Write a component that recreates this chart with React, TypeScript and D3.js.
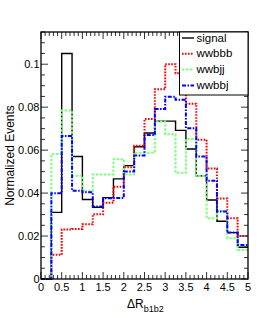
import React from "react";
import * as d3 from "d3";

// bin edges: 0 to 5 in steps of 0.25
const binWidth = 0.25;
const signal = [0, 0.031, 0.105, 0.057, 0.037, 0.0334, 0.0379, 0.0466, 0.0528, 0.0616, 0.068, 0.0735, 0.0735, 0.0692, 0.0605, 0.048, 0.0368, 0.0269, 0.0216, 0.0148];
const wwbbb = [0, 0.0113, 0.0231, 0.0233, 0.0255, 0.0301, 0.0355, 0.043, 0.052, 0.062, 0.0745, 0.0883, 0.1, 0.0958, 0.0816, 0.0648, 0.0514, 0.0375, 0.0283, 0.02];
const wwbjj = [0, 0.0582, 0.0784, 0.0481, 0.041, 0.0486, 0.0486, 0.0558, 0.0486, 0.0588, 0.0588, 0.0733, 0.0674, 0.0495, 0.0652, 0.048, 0.0283, 0.0317, 0.019, 0.0135];
const wwbbj = [0, 0.0399, 0.0666, 0.0411, 0.0404, 0.0337, 0.0376, 0.0377, 0.05, 0.0575, 0.067, 0.0792, 0.0849, 0.0834, 0.0702, 0.057, 0.0458, 0.0314, 0.0216, 0.0158];

const xTicks = [0, 0.5, 1, 1.5, 2, 2.5, 3, 3.5, 4, 4.5, 5];
const xTickLabels = ["0", "0.5", "1", "1.5", "2", "2.5", "3", "3.5", "4", "4.5", "5"];
const yTicks = [0, 0.02, 0.04, 0.06, 0.08, 0.1];
const yTickLabels = ["0", "0.02", "0.04", "0.06", "0.08", "0.1"];

const series = [
  { name: "signal", values: signal, color: "#000000", dash: "none", width: 1.4 },
  { name: "wwbbb", values: wwbbb, color: "#ff0000", dash: "1.6,1.4", width: 2 },
  { name: "wwbjj", values: wwbjj, color: "#7fff7f", dash: "2.5,1.5", width: 2 },
  { name: "wwbbj", values: wwbbj, color: "#0000ff", dash: "4,1.5,1.5,1.5", width: 2 },
];

const W = 276;
const H = 318;
const left = 41;
const right = 248;
const top = 32;
const bottom = 279;

export default function App() {
  const x = d3.scaleLinear().domain([0, 5]).range([left, right]);
  const y = d3.scaleLinear().domain([0, 0.115]).range([bottom, top]);

  const line = d3
    .line<[number, number]>()
    .x((d) => x(d[0]))
    .y((d) => y(d[1]))
    .curve(d3.curveStepAfter);

  const histPath = (vals: number[]) => {
    const pts: [number, number][] = vals.map((v, i) => [i * binWidth, v]);
    pts.push([vals.length * binWidth, vals[vals.length - 1]]);
    return line(pts) || "";
  };

  const xMinor = d3.range(0, 5.001, 0.1);
  const yMinor = d3.range(0, 0.1151, 0.005);
  const font = "Liberation Sans, Arial, sans-serif";

  return (
    <svg width={W} height={H} style={{ position: "absolute", left: 0, top: 0 }}>
      <rect x={0} y={0} width={W} height={H} fill="#fff" />
      {series.map((s) => (
        <path
          key={s.name}
          d={histPath(s.values)}
          fill="none"
          stroke={s.color}
          strokeWidth={s.width}
          strokeDasharray={s.dash}
        />
      ))}
      {/* ticks */}
      <g stroke="#333" strokeWidth={1}>
        {xMinor.map((t, i) => {
          const major = Math.abs(t * 2 - Math.round(t * 2)) < 1e-6;
          const len = major ? 7 : 4;
          return (
            <g key={"xt" + i}>
              <line x1={x(t)} x2={x(t)} y1={bottom} y2={bottom - len} />
              <line x1={x(t)} x2={x(t)} y1={top} y2={top + len} />
            </g>
          );
        })}
        {yMinor.map((t, i) => {
          const major = Math.abs(t * 50 - Math.round(t * 50)) < 1e-6;
          const len = major ? 7 : 4;
          return (
            <g key={"yt" + i}>
              <line x1={left} x2={left + len} y1={y(t)} y2={y(t)} />
              <line x1={right} x2={right - len} y1={y(t)} y2={y(t)} />
            </g>
          );
        })}
      </g>
      <rect x={left} y={top} width={right - left} height={bottom - top} fill="none" stroke="#000" strokeWidth={1.3} />
      {/* tick labels */}
      <g fontFamily={font} fontSize={11} fill="#000">
        {xTicks.map((t, i) => (
          <text key={"xl" + i} x={x(t)} y={291} textAnchor="middle">
            {xTickLabels[i]}
          </text>
        ))}
        {yTicks.map((t, i) => (
          <text key={"yl" + i} x={39.5} y={y(t) + 4} textAnchor="end">
            {yTickLabels[i]}
          </text>
        ))}
      </g>
      {/* axis titles */}
      <text
        fontFamily={font}
        fontSize={12}
        textAnchor="middle"
        transform={`translate(14,${(top + bottom) / 2}) rotate(-90)`}
      >
        Normalized Events
      </text>
      <text fontFamily={font} fontSize={12} x={127} y={307.5}>
        ΔR
        <tspan fontSize={9} dy={4}>b1b2</tspan>
      </text>
      {/* legend */}
      <rect x={179.5} y={top} width={right - 179.5} height={63} fill="#fff" stroke="#000" strokeWidth={1} />
      {series.map((s, i) => {
        const by = 41.5 + i * 15.8;
        return (
          <g key={"lg" + s.name}>
            <line
              x1={182}
              x2={194}
              y1={by - 3.5}
              y2={by - 3.5}
              stroke={s.color}
              strokeWidth={s.width}
              strokeDasharray={s.dash}
            />
            <text x={196.5} y={by} fontFamily={font} fontSize={11.5}>
              {s.name}
            </text>
          </g>
        );
      })}
    </svg>
  );
}
